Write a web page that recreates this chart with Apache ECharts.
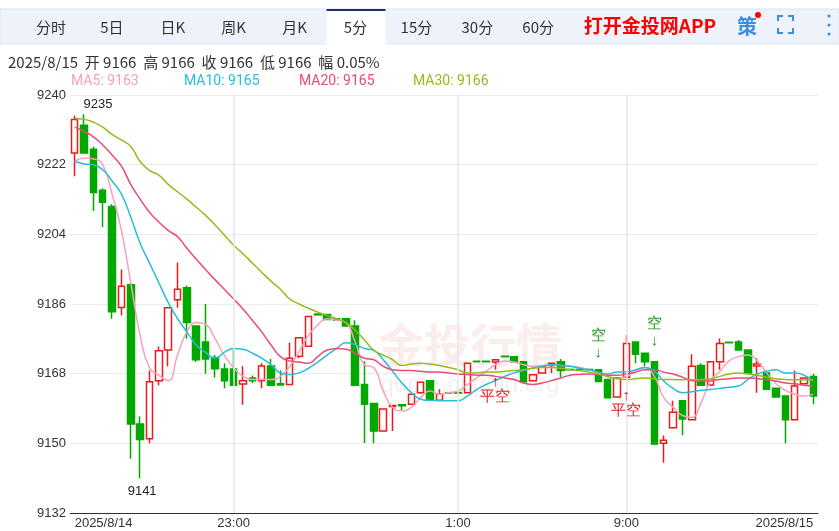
<!DOCTYPE html>
<html>
<head>
<meta charset="utf-8">
<script src="https://cdn.jsdelivr.net/npm/echarts@6/dist/echarts.min.js"></script>
<style>
  html, body { margin: 0; padding: 0; background: #fff; }
  #main { width: 839px; height: 531px; }
</style>
</head>
<body>
<div id="main"></div>
<script>
// 5 min bars, 8/14 21:35 -> 8/15 10:40 (night session ends 2:30)
const barCount = 80;

// [open, close, low, high]
const ohlc = [
  [9225, 9233.7, 9219, 9234.7], [9232.2, 9225, 9225, 9235], [9226, 9214.8, 9210, 9226.7],
  [9215.4, 9212.3, 9205.9, 9215.9], [9211.2, 9184, 9182.2, 9211.8], [9185.1, 9190.6, 9183, 9194.9],
  [9191, 9155, 9146, 9191.5], [9155, 9151, 9141, 9157], [9151.2, 9165.9, 9150, 9168.8],
  [9166.2, 9173.9, 9165, 9175], [9174.1, 9185, 9169.9, 9185], [9187.1, 9189.8, 9185, 9196.7],
  [9190.2, 9181.2, 9177, 9190.8], [9180.3, 9171.6, 9171, 9180.3], [9176.2, 9171.8, 9168, 9186],
  [9172.2, 9169.3, 9167, 9172.8], [9169.2, 9166.2, 9164.2, 9170.7], [9169.2, 9165, 9165, 9174.1],
  [9165.3, 9166.2, 9160, 9169.9], [9166.9, 9166.2, 9165.5, 9167.5], [9166.2, 9170, 9164.2, 9170.7],
  [9170, 9165, 9165, 9171.8], [9165.4, 9165.1, 9165, 9168.8], [9165.2, 9172, 9165.2, 9176],
  [9172.5, 9177.3, 9172, 9177.5], [9175.1, 9182.8, 9175.1, 9182.8], [9183.4, 9183.2, 9183.2, 9183.4],
  [9183.3, 9182, 9182, 9183.3], [9182.2, 9181.8, 9181.8, 9182.2], [9182.2, 9180.3, 9180.3, 9182.2],
  [9180.3, 9165, 9165, 9181.8], [9165.2, 9160.1, 9150.1, 9171.2], [9160.3, 9153.2, 9150, 9160.3],
  [9153.2, 9158.9, 9153.2, 9158.9], [9159.5, 9159.8, 9153.2, 9159.8], [9160, 9159.7, 9158.4, 9160],
  [9160.1, 9162.7, 9160.1, 9162.7], [9163.1, 9165.8, 9162.8, 9166], [9166.2, 9161.1, 9161.1, 9166.2],
  [9161.1, 9162.7, 9161.1, 9164], [9163.1, 9163, 9163, 9163.1], [9163.1, 9163, 9163, 9163.1],
  [9163.1, 9170.7, 9163.1, 9170.7], [9171.2, 9171.1, 9171.1, 9171.2], [9171.2, 9171.1, 9171.1, 9171.2],
  [9171, 9171.6, 9169, 9171.6], [9172.5, 9172.4, 9172.4, 9172.5], [9172.4, 9171.1, 9171.1, 9172.4],
  [9171.1, 9165.9, 9165.9, 9171.1], [9166.2, 9167.7, 9166.2, 9167.7], [9168.2, 9169.9, 9168.2, 9169.9],
  [9170.1, 9170.7, 9168.2, 9170.7], [9171.1, 9168.8, 9167.1, 9171.8], [9169.1, 9169, 9169, 9169.1],
  [9169.1, 9169, 9169, 9169.1], [9169.1, 9169, 9169, 9169.1], [9169, 9166, 9166, 9169],
  [9166.5, 9161.8, 9161.8, 9166.5], [9162, 9166.9, 9162, 9166.9], [9167.1, 9175.8, 9167.1, 9177.9],
  [9176.2, 9173, 9170.7, 9176.2], [9173.3, 9171.1, 9169.9, 9173.3], [9171.1, 9149.8, 9149.8, 9171.1],
  [9150, 9150.8, 9145, 9152], [9154, 9158, 9154, 9161], [9161, 9156.3, 9152.1, 9161],
  [9156.1, 9169.9, 9156.1, 9173], [9170.1, 9165, 9165, 9170.7], [9165.1, 9171.1, 9165.1, 9171.1],
  [9171.1, 9175.8, 9169, 9177.1], [9176.1, 9176, 9176, 9176.1], [9176.2, 9174.1, 9174.1, 9176.7],
  [9174.1, 9168.2, 9168.2, 9174.1], [9170, 9170.5, 9163.1, 9172], [9168.2, 9164, 9164, 9168.2],
  [9164.2, 9162, 9162, 9164.2], [9162.2, 9156.1, 9150, 9162.2], [9156.1, 9164.8, 9156.1, 9168.8],
  [9165.4, 9166.9, 9165.4, 9166.9], [9167.3, 9162.2, 9160.1, 9167.9]
];

const ma5 = [
  9222.8, 9223.7, 9223.5, 9222, 9214.4, 9205, 9191.5, 9177.9, 9169.5, 9167.6, 9166.2, 9172.8,
  9178.8, 9181.2, 9180.7, 9177.1, 9172.8, 9169.5, 9167.3, 9166.5, 9166.5, 9166.5, 9167.3, 9169.9,
  9173.7, 9177.9, 9180.6, 9182.2, 9181.8, 9181.2, 9176.2, 9170.3, 9169.5, 9163.5, 9159.3, 9158.4,
  9159.3, 9161.8, 9163.5, 9162.7, 9163.1, 9163.5, 9165.2, 9166.9, 9168.6, 9170.3, 9171.3, 9171,
  9170.3, 9169.9, 9170.1, 9170.3, 9170.1, 9169.9, 9169.6, 9169, 9168.2, 9167.1, 9166.7, 9167.3,
  9168.6, 9169.6, 9167.3, 9161.8, 9159.3, 9157.2, 9156.7, 9160.5, 9166.1, 9168.6, 9171.3, 9172.4,
  9172.8, 9171.3, 9168.2, 9165.4, 9163.7, 9162.7, 9162.2, 9162.7
];
const ma10 = [
  9222.8, 9222.2, 9222, 9220.7, 9217.8, 9214.4, 9208.4, 9201.7, 9196.6, 9191.5, 9186.4, 9182.2,
  9178.8, 9175.4, 9173.5, 9172, 9173.5, 9174.5, 9174.3, 9173.3, 9172, 9170.3, 9168.2, 9167.8,
  9168.2, 9169.4, 9171, 9172.8, 9174.5, 9176, 9175.5, 9174.5, 9174, 9171.6, 9168.6, 9165.6,
  9163.1, 9161.4, 9161.1, 9161, 9161, 9161, 9162.2, 9163.9, 9165.2, 9166.2, 9167.3, 9168.2,
  9168.8, 9169.5, 9169.9, 9170.3, 9170.1, 9169.9, 9169.4, 9169, 9168.4, 9167.9, 9168.4, 9168.4,
  9169, 9169.6, 9168.6, 9166.1, 9164.2, 9163.1, 9163.3, 9163.7, 9163.9, 9164.2, 9164.5, 9164.8,
  9166.5, 9167.9, 9168.6, 9169, 9168.2, 9168.2, 9167.6, 9166.2
];
const ma20 = [
  9231.7, 9230.6, 9229.2, 9227.1, 9224.5, 9221.6, 9216.9, 9213.1, 9209.7, 9207.2, 9205, 9203.4,
  9200.4, 9197.6, 9194.9, 9192.3, 9189.8, 9187.3, 9184.7, 9181.8, 9178.8, 9175.4, 9172.4, 9171.3,
  9171, 9170.7, 9172.4, 9174.1, 9174.5, 9174.3, 9173.3, 9172, 9171.6, 9169.9, 9169, 9168.8,
  9168.8, 9168.6, 9168.4, 9168.4, 9168.2, 9167.9, 9167.8, 9167.6, 9167.6, 9167.3, 9166.9, 9166.5,
  9165.6, 9165.2, 9165.6, 9166.2, 9166.9, 9167.6, 9167.8, 9167.9, 9167.8, 9167.6, 9167.6, 9167.9,
  9168.4, 9169, 9169, 9168.4, 9167.9, 9167.1, 9166.2, 9166.1, 9166.2, 9166.5, 9166.7, 9166.9,
  9166.9, 9166.7, 9166.4, 9166.1, 9165.6, 9165.4, 9165, 9164.8
];
const ma30 = [
  9233.9, 9233.7, 9233, 9231.7, 9229.8, 9228.4, 9226.7, 9222.8, 9220.5, 9219.3, 9216.9, 9215,
  9213.1, 9211, 9208.9, 9206.5, 9203.8, 9201.2, 9199, 9196.6, 9194.2, 9191.9, 9189.8, 9187.3,
  9186, 9184.9, 9183.9, 9183, 9182.2, 9181.2, 9179.2, 9176.7, 9174, 9172.8, 9171.6, 9170.1,
  9170.5, 9170.7, 9170.5, 9170.1, 9169.6, 9169, 9168.2, 9168.2, 9168.4, 9168.4, 9168.6, 9168.8,
  9169, 9169.4, 9169.6, 9169.6, 9169.4, 9169, 9168.8, 9168.4, 9167.9, 9167.3, 9166.7, 9166.5,
  9166.7, 9166.9, 9166.7, 9166.5, 9166.5, 9166.4, 9166.4, 9166.5, 9166.7, 9167.3, 9167.9, 9168.2,
  9167.9, 9167.6, 9167.1, 9166.7, 9166.5, 9166.4, 9166.4, 9166.3
];

const yTicks = [9132, 9150, 9168, 9186, 9204, 9222, 9240];
const timeLabels = { 0: '2025/8/14', 17: '23:00', 41: '1:00', 59: '9:00', 79: '2025/8/15' };
const dividerIdx = [17, 41, 59];

const tabs = ['分时', '5日', '日K', '周K', '月K', '5分', '15分', '30分', '60分'];
const activeTab = 5;

const categories = [];
for (let i = 0; i < barCount; i++) categories.push(String(i));

const myChart = echarts.init(document.getElementById('main'));

// toolbar and header texts
const tabX = (i) => 51 + i * 60.9;
const graphics = [
  { type: 'rect', shape: { x: 0, y: 9, width: 839, height: 35 }, style: { fill: '#eef3fb', stroke: '#dde5f0' }, silent: true },
  { type: 'rect', shape: { x: tabX(activeTab) - 29, y: 10, width: 59, height: 35 }, style: { fill: '#fff' } },
  { type: 'rect', shape: { x: tabX(activeTab) - 29, y: 9, width: 59, height: 2 }, style: { fill: '#1b2e6b' } },
];
tabs.forEach((t, i) => {
  graphics.push({
    type: 'text', x: tabX(i), y: 27,
    style: { text: t, fill: '#333', font: '15px "Noto Sans CJK SC", sans-serif', align: 'center', verticalAlign: 'middle' },
  });
});
graphics.push(
  { type: 'text', x: 650, y: 26, style: { text: '打开金投网APP', fill: '#f00', font: 'bold 19px "Noto Sans CJK SC", sans-serif', align: 'center', verticalAlign: 'middle' } },
  { type: 'text', x: 747, y: 26, style: { text: '策', fill: '#3d8fd8', font: 'bold 20px "Noto Sans CJK SC", sans-serif', align: 'center', verticalAlign: 'middle' } },
  { type: 'circle', shape: { cx: 758, cy: 15, r: 3 }, style: { fill: '#f00' } },
  { type: 'polyline', shape: { points: [[778, 21], [778, 16], [783, 16]] }, style: { stroke: '#3d8fd8', lineWidth: 2, fill: null } },
  { type: 'polyline', shape: { points: [[788, 16], [793, 16], [793, 21]] }, style: { stroke: '#3d8fd8', lineWidth: 2, fill: null } },
  { type: 'polyline', shape: { points: [[778, 28], [778, 33], [783, 33]] }, style: { stroke: '#3d8fd8', lineWidth: 2, fill: null } },
  { type: 'polyline', shape: { points: [[788, 33], [793, 33], [793, 28]] }, style: { stroke: '#3d8fd8', lineWidth: 2, fill: null } },
  { type: 'circle', shape: { cx: 829, cy: 16, r: 1.6 }, style: { fill: '#3d8fd8' } },
  { type: 'circle', shape: { cx: 829, cy: 25, r: 1.6 }, style: { fill: '#3d8fd8' } },
  { type: 'circle', shape: { cx: 829, cy: 34, r: 1.6 }, style: { fill: '#3d8fd8' } },
  { type: 'text', x: 8, y: 62, style: { text: '2025/8/15  开 9166  高 9166  收 9166  低 9166  幅 0.05%', fill: '#333', font: '15px "Noto Sans CJK SC", sans-serif', verticalAlign: 'middle' } },
  { type: 'text', x: 71, y: 81, style: { text: 'MA5: 9163', fill: '#f7a1bd', font: '14px Roboto, sans-serif', verticalAlign: 'middle' } },
  { type: 'text', x: 184, y: 81, style: { text: 'MA10: 9165', fill: '#27bcd9', font: '14px Roboto, sans-serif', verticalAlign: 'middle' } },
  { type: 'text', x: 299, y: 81, style: { text: 'MA20: 9165', fill: '#ec4a78', font: '14px Roboto, sans-serif', verticalAlign: 'middle' } },
  { type: 'text', x: 413, y: 81, style: { text: 'MA30: 9166', fill: '#95bb1c', font: '14px Roboto, sans-serif', verticalAlign: 'middle' } },
  { type: 'text', x: 470, y: 345, z: -1, style: { text: '金投行情', fill: 'rgba(220,110,100,0.12)', font: 'bold 46px "Noto Sans CJK SC", sans-serif', align: 'center', verticalAlign: 'middle' } },
  { type: 'text', x: 470, y: 385, z: -1, style: { text: 'quote.cngold.org', fill: 'rgba(200,200,200,0.25)', font: '24px sans-serif', align: 'center', verticalAlign: 'middle' } }
);

const maLine = (name, data, color) => ({
  name, type: 'line', data, smooth: true, symbol: 'none',
  lineStyle: { color, width: 1.5 }, silent: true,
});

const option = {
  animation: false,
  graphic: graphics,
  grid: { left: 70, right: 21, top: 95, bottom: 18 },
  xAxis: {
    type: 'category',
    data: categories,
    axisLine: { lineStyle: { color: '#333' } },
    axisTick: { show: false },
    splitLine: { show: false },
    axisLabel: {
      interval: (i) => timeLabels[i] !== undefined,
      formatter: (v, i) => timeLabels[i] || '',
      color: '#333', fontSize: 13, margin: 4,
      alignMinLabel: 'left', alignMaxLabel: 'right',
    },
  },
  yAxis: {
    type: 'value', min: 9132, max: 9240, interval: 18, position: 'left',
    axisLine: { show: false }, axisTick: { show: false },
    axisLabel: {
      color: '#333', fontSize: 13, margin: 4,
      customValues: yTicks,
      formatter: (v) => String(v),
    },
    splitLine: { lineStyle: { color: '#ececec' } },
  },
  series: [
    {
      type: 'candlestick', data: ohlc, barWidth: 7,
      itemStyle: { color: '#fff', color0: '#00a800', borderColor: '#f01818', borderColor0: '#00a800', borderWidth: 1.5 },
      markLine: {
        silent: true, symbol: 'none', label: { show: false },
        lineStyle: { color: '#e6e6e6', type: 'solid', width: 1.5 },
        data: dividerIdx.map((i) => ({ xAxis: String(i) })),
      },
      markPoint: {
        symbol: 'circle', symbolSize: 0, silent: true,
        data: [
          { coord: ['1', 9235], label: { show: true, formatter: '9235', position: 'top', color: '#222', fontSize: 13, offset: [14, 2] } },
          { coord: ['7', 9141], label: { show: true, formatter: '9141', position: 'bottom', color: '#222', fontSize: 13, offset: [2, 2] } },
          { coord: ['56', 9170], label: { show: true, formatter: '空\n↓', position: 'top', color: '#1a9a1a', fontSize: 15, lineHeight: 17 } },
          { coord: ['62', 9173], label: { show: true, formatter: '空\n↓', position: 'top', color: '#1a9a1a', fontSize: 15, lineHeight: 17 } },
          { coord: ['45', 9169], label: { show: true, formatter: '↑\n平空', position: 'bottom', color: '#e02020', fontSize: 15, lineHeight: 15 } },
          { coord: ['59', 9165.5], label: { show: true, formatter: '↑\n平空', position: 'bottom', color: '#e02020', fontSize: 15, lineHeight: 15 } },
        ],
      },
    },
    maLine('MA5', ma5, '#f7a1bd'),
    maLine('MA10', ma10, '#27bcd9'),
    maLine('MA20', ma20, '#ec4a78'),
    maLine('MA30', ma30, '#95bb1c'),
  ],
};

myChart.setOption(option);
</script>
</body>
</html>
